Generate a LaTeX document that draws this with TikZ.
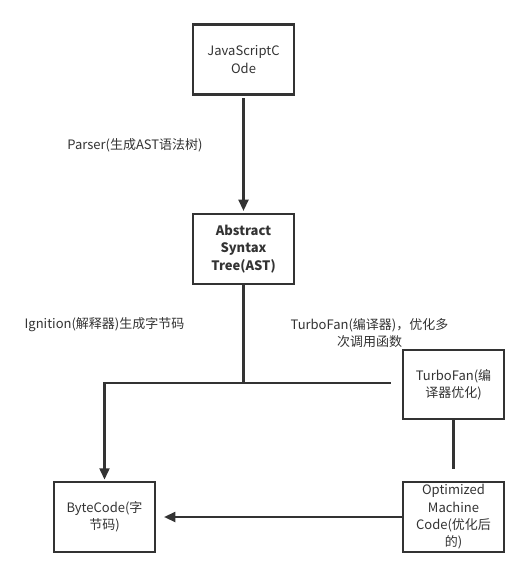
\documentclass[tikz,border=0pt]{standalone}
\usepackage{fontspec}
\setmainfont{Noto Sans CJK SC}
\usetikzlibrary{arrows.meta}
\definecolor{ink}{HTML}{333333}

\begin{document}
\begin{tikzpicture}[x=0.75pt,y=-0.75pt,
    box/.style={draw=ink,line width=1.6pt,minimum width=101*0.75pt,minimum height=70*0.75pt,
      inner sep=0pt,align=center,text=ink,font=\fontsize{9.75}{13}\selectfont},
    lbl/.style={align=center,text=ink,font=\fontsize{9.75}{13}\selectfont},
    wire/.style={draw=ink,line width=1.6pt},
    arr/.style={wire,-{Triangle[width=7.5pt,length=8.5pt]}}]
  \useasboundingbox (0,0) rectangle (529,577);
  \node[box] (js) at (243.5,59.5) {JavaScriptC\\Ode};
  \node[box] (ast) at (243.5,249) {\bfseries Abstract\\\bfseries Syntax\\\bfseries Tree(AST)};
  \node[box,minimum height=69*0.75pt] (tf) at (453.5,384.5) {TurboFan(编\\译器优化)};
  \node[box] (bc) at (104.5,517) {ByteCode(字\\节码)};
  \node[box] (om) at (453.5,517) {Optimized\\Machine\\Code(优化后\\的)};
  \coordinate (j) at (243.5,383);
  \node[lbl] (parser) at (135,145) {Parser(生成AST语法树)};
  \node[lbl] (ign) at (104.5,325) {Ignition(解释器)生成字节码};
  \node[lbl] (turbo) at (369.5,333) {TurboFan(编译器)，优化多\\次调用函数};
  \draw[arr,shorten <=2pt,shorten >=1.5pt] (js.south) -- (ast.north);
  \draw[wire] (ast.south) -- (j) -- ([xshift=-8pt]tf.west |- j);
  \draw[arr,shorten >=1pt] (j) -| (bc.north);
  \draw[wire,shorten >=9pt] (tf.south) -- (om.north);
  \draw[arr,shorten >=6pt] (om.west) -- (bc.east);
\end{tikzpicture}
\end{document}
